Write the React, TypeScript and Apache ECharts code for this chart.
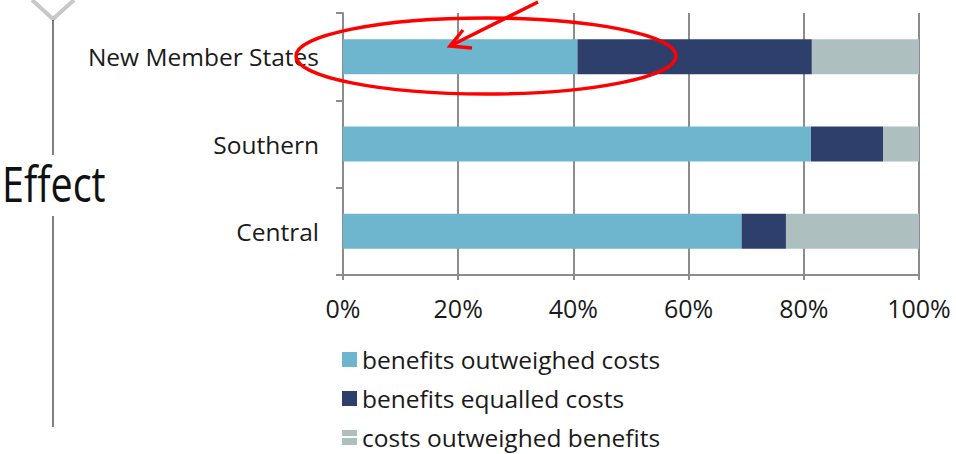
import React, { useEffect, useRef } from "react";
import * as echarts from "echarts";

const categories = ["New Member States", "Southern", "Central"];
const seriesNames = ["benefits outweighed costs", "benefits equalled costs", "costs outweighed benefits"];
const outweighed = [0.407, 0.8125, 0.692];
const equalled = [0.407, 0.125, 0.077];
const costsOutweighed = [0.186, 0.0625, 0.231];
const xTicks = [0, 0.2, 0.4, 0.6, 0.8, 1];
const colors = ["#6EB6CE", "#2F3F6C", "#ADBFBF"];
const FONT = "'Open Sans', 'Noto Sans', sans-serif";

export default function App() {
  const ref = useRef<HTMLDivElement>(null);
  useEffect(() => {
    if (!ref.current) return;
    const chart = echarts.init(ref.current, null, { renderer: "svg" });
    const values = [outweighed, equalled, costsOutweighed];
    const icons = ["rect", "rect", "path://M0,0H15V6H0Z M0,8H15V15H0Z"];
    chart.setOption({
      animation: false,
      textStyle: { fontFamily: FONT },
      grid: { left: 343, right: 37, top: 13, bottom: 179 },
      legend: {
        orient: "vertical",
        left: 342,
        top: 346,
        padding: 0,
        height: 108,
        itemWidth: 15,
        itemHeight: 15,
        itemGap: 12,
        data: seriesNames.map((n, i) => ({ name: n, icon: icons[i] })),
        textStyle: {
          fontSize: 24.5,
          lineHeight: 27,
          color: "#1a1a1a",
          fontFamily: FONT,
        },
      },
      xAxis: {
        type: "value",
        min: xTicks[0],
        max: xTicks[xTicks.length - 1],
        interval: 0.2,
        axisLine: { show: true, lineStyle: { color: "#8c8c8c", width: 2 } },
        axisTick: { show: true, length: 5, lineStyle: { color: "#8c8c8c", width: 2 } },
        splitLine: { show: true, lineStyle: { color: "#8c8c8c", width: 2 } },
        axisLabel: {
          fontSize: 25,
          color: "#1a1a1a",
          margin: 20,
          formatter: (v: number) => Math.round(v * 100) + "%",
        },
      },
      yAxis: {
        type: "category",
        inverse: true,
        data: categories,
        axisLine: { show: true, lineStyle: { color: "#8c8c8c", width: 2 } },
        axisTick: { show: true, length: 7, lineStyle: { color: "#8c8c8c", width: 2 } },
        axisLabel: { fontSize: 24.5, color: "#1a1a1a", margin: 24 },
      },
      series: seriesNames.map((name, i) => ({
        name,
        type: "bar",
        stack: "total",
        barWidth: 35,
        itemStyle: { color: colors[i] },
        data: values[i],
      })),
      graphic: [
        {
          type: "polyline",
          shape: { points: [[32, 0], [53, 19], [74, 0]] },
          style: { stroke: "#c8c8c8", lineWidth: 4, fill: "none" },
        },
        {
          type: "line",
          shape: { x1: 53, y1: 20, x2: 53, y2: 155 },
          style: { stroke: "#000", lineWidth: 1 },
        },
        {
          type: "line",
          shape: { x1: 53, y1: 216, x2: 53, y2: 427 },
          style: { stroke: "#000", lineWidth: 1 },
        },
        {
          type: "text",
          x: 2,
          y: 158,
          scaleX: 0.79,
          style: {
            text: "Effect",
            fontSize: 50,
            fill: "#111",
            fontFamily: FONT,
            verticalAlign: "top",
          },
        },
        {
          type: "ellipse",
          z: 100,
          shape: { cx: 486, cy: 56, rx: 190, ry: 38 },
          style: { fill: "none", stroke: "#ff0000", lineWidth: 3.5 },
        },
        {
          type: "line",
          z: 100,
          shape: { x1: 538, y1: 2, x2: 450, y2: 46 },
          style: { stroke: "#ff0000", lineWidth: 3.5 },
        },
        {
          type: "polyline",
          z: 100,
          shape: { points: [[463, 30], [450, 46], [472, 48]] },
          style: { stroke: "#ff0000", lineWidth: 3.5, fill: "none" },
        },
      ],
    });
    return () => chart.dispose();
  }, []);
  return (
    <div
      ref={ref}
      style={{ position: "fixed", left: 0, top: 0, width: 956, height: 454, background: "#fff" }}
    />
  );
}
